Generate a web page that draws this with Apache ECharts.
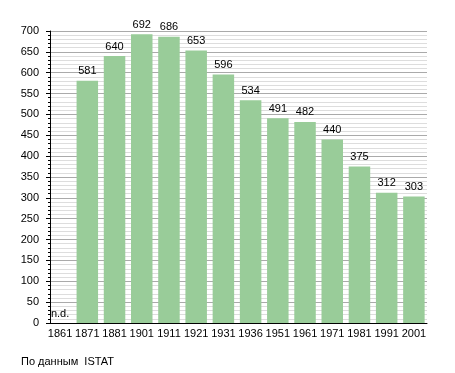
<!DOCTYPE html>
<html><head><meta charset="utf-8">
<script src="https://cdn.jsdelivr.net/npm/echarts@6/dist/echarts.min.js"></script>
<style>html,body{margin:0;padding:0;background:#fff}#c{width:455px;height:373px}</style>
</head><body><div id="c"></div>
<script>
const years = ['1861','1871','1881','1901','1911','1921','1931','1936','1951','1961','1971','1981','1991','2001'];
const population = [null,581,640,692,686,653,596,534,491,482,440,375,312,303];
const missingLabel = 'n.d.';
const yTicks = {min:0, max:700, interval:50};
const footer = 'По данным  ISTAT';

const font = 'Liberation Sans, Arial, sans-serif';
const chart = echarts.init(document.getElementById('c'), null, {renderer:'canvas'});
const data = population.map(v => v === null
  ? {value:0, label:{formatter: missingLabel}}
  : {value:v});
chart.setOption({
  animation:false,
  grid:[
    {left:50, right:28, top:31, bottom:50, containLabel:false},
    {left:46.5, right:27.5, top:31, bottom:50, containLabel:false}
  ],
  xAxis:[
    {type:'category', gridIndex:0, data:years,
      axisLine:{lineStyle:{color:'#000', width:1}},
      axisTick:{show:false}, axisLabel:{show:false}},
    {type:'category', gridIndex:1, data:years,
      axisLine:{show:false}, axisTick:{show:false},
      axisLabel:{color:'#000', fontFamily:font, fontSize:11, margin:5, interval:0}}
  ],
  yAxis:[
    {type:'value', gridIndex:0, min:yTicks.min, max:yTicks.max, interval:yTicks.interval,
      axisLine:{show:true, lineStyle:{color:'#000', width:1}},
      axisTick:{show:true, length:4, lineStyle:{color:'#000'}},
      minorTick:{show:true, splitNumber:5, length:2, lineStyle:{color:'#000'}},
      splitLine:{show:true, lineStyle:{color:'#aaa', width:1}},
      minorSplitLine:{show:true, lineStyle:{color:'#ddd', width:1}},
      axisLabel:{color:'#000', fontFamily:font, fontSize:11, margin:11}},
    {type:'value', gridIndex:1, min:yTicks.min, max:yTicks.max, interval:yTicks.interval,
      show:false, splitLine:{show:false}}
  ],
  series:[{type:'bar', xAxisIndex:1, yAxisIndex:1, data:data, barWidth:21.5, z:3,
    itemStyle:{color:'#99cc99'},
    label:{show:true, position:'top', distance:4, color:'#000', fontFamily:font, fontSize:11}}],
  graphic:[{type:'text', left:21, top:356, style:{text:footer, fill:'#000', font:'11px '+font}}]
});
</script></body></html>
